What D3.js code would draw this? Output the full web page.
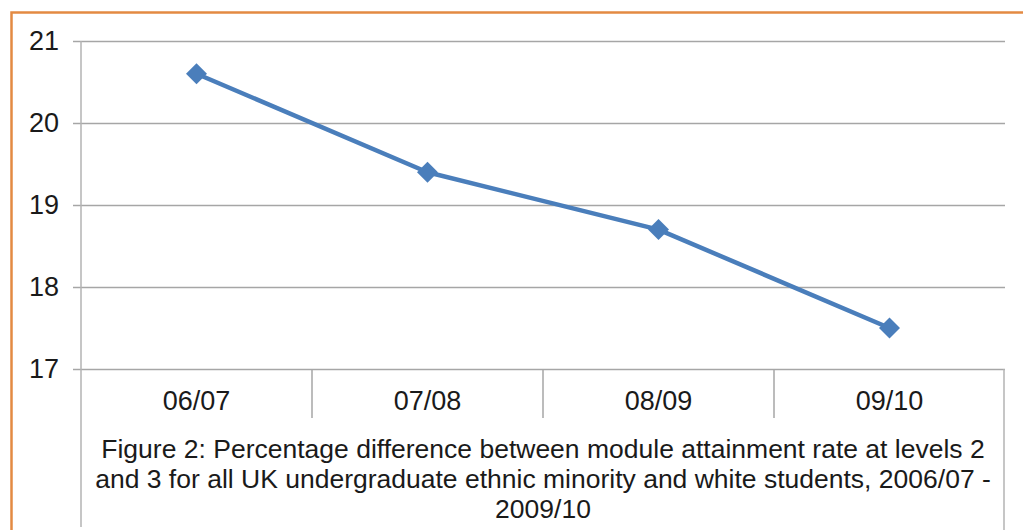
<!DOCTYPE html>
<html>
<head>
<meta charset="utf-8">
<script src="https://cdn.jsdelivr.net/npm/d3@7"></script>
<style>
  html, body { margin: 0; padding: 0; background: #ffffff; }
  svg { display: block; }
  text { font-family: "Liberation Sans", Arial, sans-serif; fill: #1a1a1a; }
</style>
</head>
<body>
<svg id="chart" width="1023" height="530"></svg>
<script>
// Academic years on the category axis
const years = ["06/07", "07/08", "08/09", "09/10"];
// Percentage-point gap in module attainment (ethnic minority vs white students)
const gapValues = [20.6, 19.4, 18.7, 17.5];
// Value axis ticks
const yTicks = [17, 18, 19, 20, 21];
// Caption lines under the axis
const captionLines = [
  "Figure 2: Percentage difference between module attainment rate at levels 2",
  "and 3 for all UK undergraduate ethnic minority and white students, 2006/07 -",
  "2009/10"
];

const svg = d3.select("#chart");
const W = 1023, H = 530;

const plot = { left: 81, right: 1005, top: 41, bottom: 369 };

// Outer frame (orange), running off the right and bottom edges
svg.append("rect")
  .attr("x", 11.5).attr("y", 12.5)
  .attr("width", W + 20).attr("height", H + 20)
  .attr("fill", "none")
  .attr("stroke", "#E38A43")
  .attr("stroke-width", 2.5);

const x = d3.scaleBand().domain(years).range([plot.left, plot.right]).padding(0);
const y = d3.scaleLinear().domain([17, 21]).range([plot.bottom, plot.top]);

const gridColor = "#a6a6a6";

// Horizontal gridlines, drawn from the right edge leftwards past the axis as tick stubs
const yAxis = d3.axisLeft(y)
  .tickValues(yTicks)
  .tickSize(plot.right - plot.left + 8)
  .tickFormat(d3.format("d"));

const gy = svg.append("g")
  .attr("transform", `translate(${plot.right},0)`)
  .call(yAxis);
gy.select(".domain").remove();
gy.selectAll(".tick line")
  .attr("stroke", gridColor)
  .attr("stroke-width", 1.5);
gy.selectAll(".tick text").remove();

// Value labels
svg.append("g").selectAll("text")
  .data(yTicks)
  .join("text")
  .attr("x", 59)
  .attr("y", d => y(d))
  .attr("dy", "0.35em")
  .attr("text-anchor", "end")
  .attr("font-size", 27)
  .text(d => d);

// Vertical axis line, continuing down past the category labels
svg.append("line")
  .attr("x1", plot.left).attr("x2", plot.left)
  .attr("y1", plot.top).attr("y2", 527)
  .attr("stroke", "#b3b3b3").attr("stroke-width", 1.5);

// Right edge of the category/caption box
svg.append("line")
  .attr("x1", plot.right - 1).attr("x2", plot.right - 1)
  .attr("y1", plot.bottom).attr("y2", H)
  .attr("stroke", "#b3b3b3").attr("stroke-width", 1.5);

// Category separators
const bounds = years.slice(1).map(d => x(d));
svg.append("g").selectAll("line")
  .data(bounds)
  .join("line")
  .attr("x1", d => d).attr("x2", d => d)
  .attr("y1", plot.bottom).attr("y2", 418)
  .attr("stroke", gridColor).attr("stroke-width", 1.5);

// Category labels
svg.append("g").selectAll("text")
  .data(years)
  .join("text")
  .attr("x", d => x(d) + x.bandwidth() / 2)
  .attr("y", 410)
  .attr("text-anchor", "middle")
  .attr("font-size", 27)
  .text(d => d);

// Series line
const pts = years.map((d, i) => ({ year: d, v: gapValues[i] }));
const line = d3.line()
  .x(d => x(d.year) + x.bandwidth() / 2)
  .y(d => y(d.v));

const blue = "#4A7EBB";
svg.append("path")
  .datum(pts)
  .attr("d", line)
  .attr("fill", "none")
  .attr("stroke", blue)
  .attr("stroke-width", 4.5)
  .attr("stroke-linejoin", "round");

// Diamond markers
svg.append("g").selectAll("path")
  .data(pts)
  .join("path")
  .attr("transform", d => `translate(${x(d.year) + x.bandwidth() / 2},${y(d.v)})`)
  .attr("d", d3.symbol().type(d3.symbolDiamond2).size(280))
  .attr("fill", blue);

// Caption
svg.append("g").selectAll("text")
  .data(captionLines)
  .join("text")
  .attr("x", (plot.left + plot.right) / 2)
  .attr("y", (d, i) => 458 + i * 30)
  .attr("text-anchor", "middle")
  .attr("font-size", 26.5)
  .text(d => d);
</script>
</body>
</html>
